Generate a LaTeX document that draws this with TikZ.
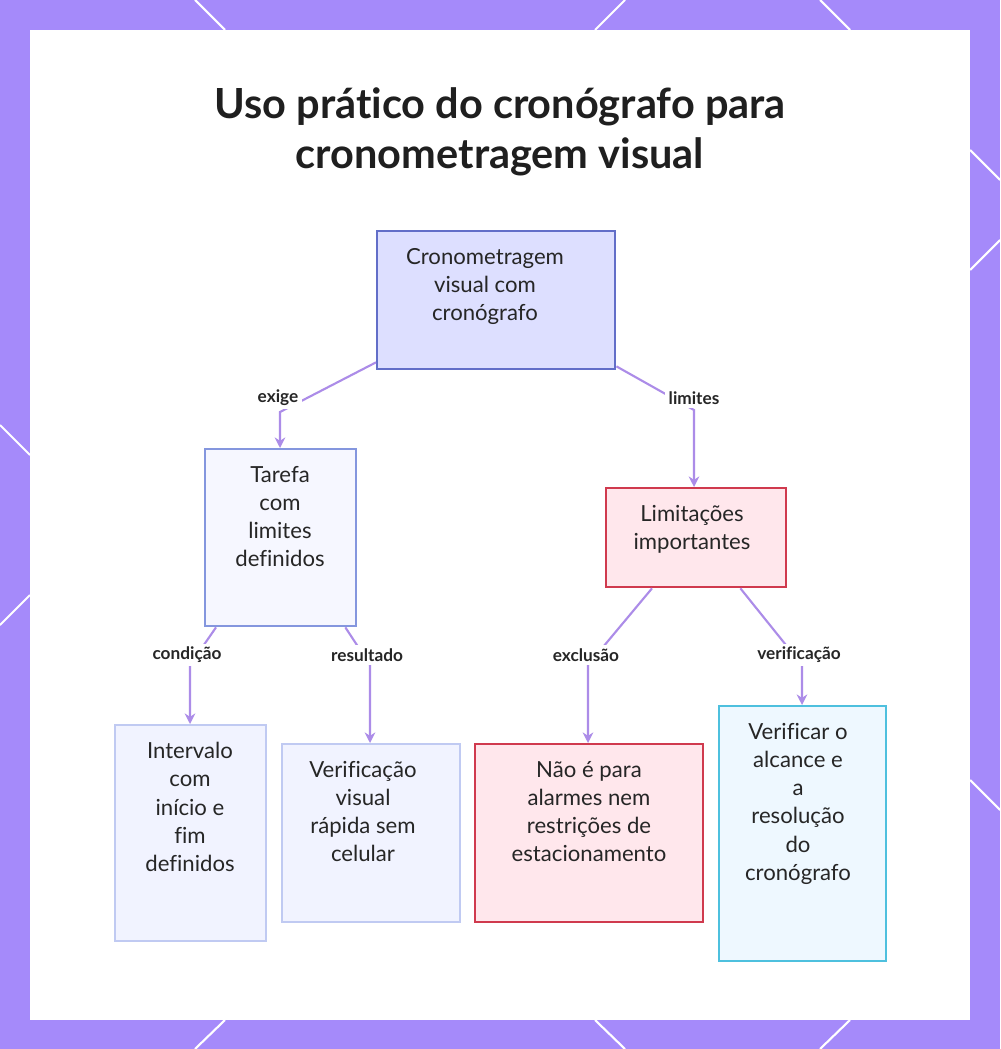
\documentclass[tikz,border=0pt]{standalone}
\usepackage{fontspec}
\setmainfont[Ligatures={NoCommon}]{Lato}
\usetikzlibrary{arrows.meta}
\definecolor{frame_bg}{RGB}{165,138,250}
\definecolor{link_col}{RGB}{172,140,232}
\definecolor{root_fill}{RGB}{221,223,255}
\definecolor{root_line}{RGB}{98,110,200}
\definecolor{task_fill}{RGB}{246,247,255}
\definecolor{task_line}{RGB}{132,150,222}
\definecolor{leaf_fill}{RGB}{241,243,255}
\definecolor{leaf_line}{RGB}{192,202,242}
\definecolor{lim_fill}{RGB}{255,231,236}
\definecolor{lim_line}{RGB}{208,58,78}
\definecolor{chk_fill}{RGB}{238,248,255}
\definecolor{chk_line}{RGB}{78,192,222}
\tikzset{
  box/.style={shape=rectangle,draw,line width=0.65pt,anchor=north west},
  boxtext/.style={anchor=north,align=center,font=\fontsize{6.3}{8}\selectfont,text=black!85},
  linklabel/.style={font=\bfseries\fontsize{4.9}{6}\selectfont,text=black!85,fill=white,inner sep=1pt},
  link/.style={draw=link_col,line width=0.6pt,-{Stealth[length=3pt,width=3pt]}},
  cut/.style={draw=white,line width=0.6pt}
}
\begin{document}
\begin{tikzpicture}[x=0.01cm,y=-0.01cm]
    \useasboundingbox (0,0) rectangle (1000,1049);
    \fill[frame_bg] (0,0) rectangle (1000,1049);
    \fill[white] (30,30) rectangle (970,1020);
    % frame cuts
    \draw[cut] (195,0) -- (225,30);  \draw[cut] (595,30) -- (625,0);
    \draw[cut] (820,0) -- (850,30);  \draw[cut] (0,425) -- (30,455);
    \draw[cut] (0,625) -- (30,595);  \draw[cut] (970,150) -- (1000,180);
    \draw[cut] (970,270) -- (1000,240); \draw[cut] (970,780) -- (1000,810);
    \draw[cut] (195,1049) -- (225,1020); \draw[cut] (595,1020) -- (625,1049);
    \draw[cut] (820,1049) -- (850,1020);
    % title
    \node[font=\bfseries\fontsize{11.8}{14.2}\selectfont,align=center,text=black!88] (title) at (500,132)
      {Uso prático do cronógrafo para\\cronometragem visual};
    % boxes
    \node[box,draw=root_line,fill=root_fill,minimum width=2.38cm,minimum height=1.38cm] (root) at (376,230) {};
    \node[box,draw=task_line,fill=task_fill,minimum width=1.51cm,minimum height=1.77cm] (task) at (204,448) {};
    \node[box,draw=lim_line,fill=lim_fill,minimum width=1.80cm,minimum height=0.99cm] (limits) at (605,487) {};
    \node[box,draw=leaf_line,fill=leaf_fill,minimum width=1.51cm,minimum height=2.16cm] (interval) at (114,724) {};
    \node[box,draw=leaf_line,fill=leaf_fill,minimum width=1.78cm,minimum height=1.78cm] (quick) at (281,743) {};
    \node[box,draw=lim_line,fill=lim_fill,minimum width=2.28cm,minimum height=1.78cm] (notfor) at (474,743) {};
    \node[box,draw=chk_line,fill=chk_fill,minimum width=1.67cm,minimum height=2.55cm] (check) at (718,705) {};
    % texts
    \node[boxtext] (rootT) at (485,236) {Cronometragem\\visual com\\cronógrafo};
    \node[boxtext] (taskT) at (280,454) {Tarefa\\com\\limites\\definidos};
    \node[boxtext] (limitsT) at (692,493) {Limitações\\importantes};
    \node[boxtext] (intervalT) at (190,730) {Intervalo\\com\\início e\\fim\\definidos};
    \node[boxtext] (quickT) at (363,749) {Verificação\\visual\\rápida sem\\celular};
    \node[boxtext] (notforT) at (589,749) {Não é para\\alarmes nem\\restrições de\\estacionamento};
    \node[boxtext] (checkT) at (798,711) {Verificar o\\alcance e\\a\\resolução\\do\\cronógrafo};
    % connectors
    \coordinate (bendA) at (280,412);
    \coordinate (bendB) at (694,410);
    \coordinate (bendC) at (190,665);
    \coordinate (bendD) at (370,665);
    \coordinate (bendE) at (588,665);
    \coordinate (bendF) at (802,665);
    \draw[link] (root.south west) ++(0,-8) -- (bendA) -- (task.north west -| bendA);
    \draw[link] (root.south east) ++(0,-4) -- (bendB) -- (limits.north west -| bendB);
    \draw[link] (task.south west) ++(12,0) -- (bendC) -- (interval.north west -| bendC);
    \draw[link] (task.south east) ++(-12,0) -- (bendD) -- (quick.north west -| bendD);
    \draw[link] (limits.south west) ++(47,0) -- (bendE) -- (notfor.north west -| bendE);
    \draw[link] (limits.south east) ++(-47,0) -- (bendF) -- (check.north west -| bendF);
    % labels
    \node[linklabel] (lblA) at (278,398) {exige};
    \node[linklabel] (lblB) at (694,398) {limites};
    \node[linklabel] (lblC) at (187,655) {condição};
    \node[linklabel] (lblD) at (367,655) {resultado};
    \node[linklabel] (lblE) at (586,655) {exclusão};
    \node[linklabel] (lblF) at (799,655) {verificação};
\end{tikzpicture}
\end{document}
